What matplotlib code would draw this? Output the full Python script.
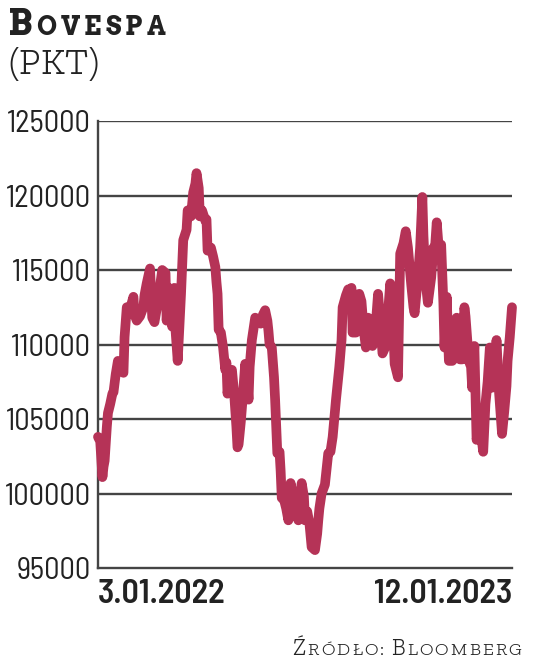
import matplotlib
matplotlib.use('Agg')
import matplotlib.pyplot as plt
from matplotlib import font_manager as fm

# Bovespa close (days counted from 3.01.2022)
days = [0, 2, 4, 5, 6, 8, 9, 11, 13, 14,
        16, 18, 21, 23, 24, 26, 29, 32, 33, 35,
        38, 41, 42, 44, 47, 49, 51, 54, 56, 58,
        61, 62, 64, 67, 69, 70, 72, 75, 77, 80,
        81, 84, 86, 88, 89, 91, 92, 94, 97, 98,
        99, 102, 104, 106, 107, 108, 109, 111, 113, 115,
        116, 117, 119, 121, 123, 125, 126, 127, 129, 131,
        133, 135, 136, 137, 139, 142, 145, 147, 149, 151,
        153, 154, 155, 157, 159, 160, 162, 164, 165, 166,
        168, 170, 172, 173, 174, 176, 178, 181, 182, 184,
        186, 187, 189, 191, 193, 196, 198, 199, 200, 202,
        205, 208, 210, 212, 215, 218, 220, 221, 224, 226,
        228, 229, 230, 233, 236, 238, 240, 242, 244, 247,
        248, 250, 253, 255, 257, 260, 262, 264, 266, 268,
        271, 273, 276, 278, 280, 283, 285, 286, 289, 291,
        293, 294, 296, 298, 301, 303, 304, 306, 308, 310,
        312, 313, 315, 317, 320, 322, 324, 327, 329, 331,
        332, 335, 337, 338, 340, 342, 344, 346, 348, 350,
        352, 354, 356, 359, 360, 362, 365, 367, 369, 370,
        372, 374]
close = [103800, 103500, 101100, 101800, 102200, 104500, 105400, 106000, 106700, 106800,
         108000, 108900, 108500, 108100, 110500, 112500, 112400, 113200, 112000, 111600,
         111900, 112500, 113300, 114100, 115100, 111800, 111500, 112800, 113900, 115000,
         114800, 111600, 113800, 111200, 113800, 111000, 108900, 113400, 117000, 117700,
         119000, 118600, 120200, 120800, 121500, 120500, 118600, 119000, 118300, 118400,
         116300, 116500, 115900, 115200, 114200, 113400, 111000, 110800, 109800, 108300,
         108800, 106700, 108000, 108300, 106700, 104500, 103100, 103300, 104800, 106700,
         108700, 107400, 106300, 108500, 110300, 111800, 111500, 111400, 112000, 112300,
         111600, 110900, 110000, 109800, 107800, 106300, 102700, 102800, 101500, 99700,
         99600, 99000, 98200, 99800, 100700, 99900, 98800, 98200, 99500, 100700,
         99800, 98200, 98800, 98000, 96400, 96200, 97300, 98200, 99000, 100000,
         100600, 102700, 102800, 103800, 106300, 108500, 110300, 112500, 113300, 113700,
         113500, 113800, 110800, 110800, 113400, 112900, 111000, 109800, 111800, 110200,
         109900, 110400, 113400, 111600, 109400, 109900, 112100, 114100, 112300, 108700,
         107800, 116100, 116800, 117600, 116500, 114000, 112500, 112100, 114500, 116500,
         119900, 117300, 114200, 112800, 114500, 116500, 116000, 118200, 116300, 116700,
         112800, 109800, 113200, 108900, 108900, 109100, 111800, 109000, 109000, 112500,
         111900, 108900, 108500, 107100, 109900, 103600, 104500, 104000, 102800, 106000,
         107500, 109800, 107100, 108800, 110300, 107100, 104000, 105500, 107200, 108900,
         110500, 112500]

y_ticks = [95000, 100000, 105000, 110000, 115000, 120000, 125000]
x_ticks = [0, 374]
x_labels = ['3.01.2022', '12.01.2023']

LINE = '#b53357'
INK = '#222222'
GRID = '#444444'

names = {f.name for f in fm.fontManager.ttflist}


def pick(*fams):
    for f in fams:
        if f in names:
            return f
    return 'DejaVu Sans'


sans = pick('Barlow Semi Condensed', 'Barlow Condensed', 'Roboto Condensed', 'Roboto')
slab_bold = pick('Arvo', 'Zilla Slab', 'DejaVu Serif')
slab_light = pick('Zilla Slab', 'Arvo', 'DejaVu Serif')

W, H = 536, 659
fig = plt.figure(figsize=(W / 100, H / 100), dpi=100)
ax = fig.add_axes([98 / W, 1 - 568 / H, 414 / W, 447 / H])

for v in y_ticks[1:]:
    ax.axhline(v, color=GRID, lw=1.7, zorder=1)
ax.plot(days, close, color=LINE, lw=7, solid_capstyle='round',
        solid_joinstyle='round', clip_on=False, zorder=3)

ax.set_xlim(0, 374)
ax.set_ylim(95000, 125000)
for s in ['top', 'right']:
    ax.spines[s].set_visible(False)
for s in ['left', 'bottom']:
    ax.spines[s].set_color(GRID)
    ax.spines[s].set_linewidth(1.7)

ax.set_yticks(y_ticks)
ax.set_yticklabels([str(v) for v in y_ticks], family=sans, fontsize=22, color=INK)
ax.tick_params(axis='y', length=0, pad=5)
ax.set_xticks(x_ticks)
ax.set_xticklabels(x_labels, family=sans, fontsize=24.5, fontweight='semibold', color=INK)
ax.tick_params(axis='x', length=0, pad=8)
xl = ax.get_xticklabels()
xl[0].set_ha('left')
xl[1].set_ha('right')


def caps(x, y, parts, family, weight='normal', track=0.0):
    # fake small caps: draw letter by letter, advancing by ink width
    r = fig.canvas.get_renderer()
    for s, size in parts:
        for ch in s:
            if ch == ' ':
                x += size * 0.3
                continue
            t = fig.text(x / W, 1 - y / H, ch, family=family, fontsize=size,
                         fontweight=weight, color=INK, ha='left', va='baseline')
            bb = t.get_window_extent(r)
            x = bb.x1 + track


caps(8, 35, [('B', 26), ('OVESPA', 18.5)], slab_bold, weight='bold', track=4)
caps(8, 74, [('(PKT)', 27)], slab_light, weight='light', track=0.5)
caps(292, 655, [('Ź', 16.5), ('RÓDŁO:', 13.3), (' B', 16.5), ('LOOMBERG', 13.3)],
     slab_light, weight='light', track=2.2)

fig.savefig('out.png', dpi=100)
